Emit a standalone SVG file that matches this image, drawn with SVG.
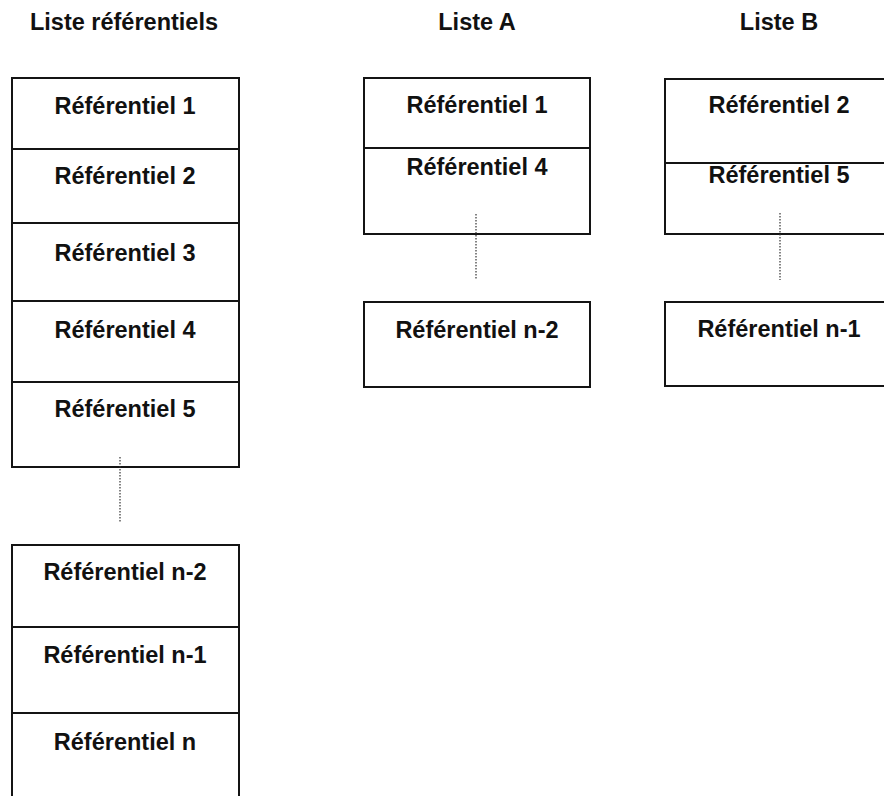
<svg xmlns="http://www.w3.org/2000/svg" width="884" height="796" viewBox="0 0 884 796">
<style>
.bg{fill:#ffffff}
.box{fill:#ffffff;stroke:#141414;stroke-width:2}
.sep{stroke:#141414;stroke-width:2;fill:none}
.dot{stroke:#333333;stroke-width:1.2;stroke-dasharray:1.5 1.5;fill:none}
.t{font-family:"Liberation Sans",Arial,sans-serif;font-weight:bold;font-size:23.5px;fill:#111111;text-anchor:middle}
</style>
<rect class="bg" x="0" y="0" width="884" height="796"/>
<g id="titles">
<text class="t" x="124" y="30">Liste référentiels</text>
<text class="t" x="477" y="30">Liste A</text>
<text class="t" x="779" y="30">Liste B</text>
</g>
<g id="liste-referentiels">
<g id="ref1"><rect class="box" x="12" y="78" width="227" height="71"/><text class="t" x="125" y="114">Référentiel 1</text></g>
<g id="ref2"><rect class="box" x="12" y="149" width="227" height="74"/><text class="t" x="125" y="184">Référentiel 2</text></g>
<g id="ref3"><rect class="box" x="12" y="223" width="227" height="78"/><text class="t" x="125" y="261">Référentiel 3</text></g>
<g id="ref4"><rect class="box" x="12" y="301" width="227" height="81"/><text class="t" x="125" y="338">Référentiel 4</text></g>
<g id="ref5"><rect class="box" x="12" y="382" width="227" height="85"/><text class="t" x="125" y="417">Référentiel 5</text></g>
<g id="refn2"><rect class="box" x="12" y="545" width="227" height="82"/><text class="t" x="125" y="580">Référentiel n-2</text></g>
<g id="refn1"><rect class="box" x="12" y="627" width="227" height="86"/><text class="t" x="125" y="663">Référentiel n-1</text></g>
<g id="refn"><rect class="box" x="12" y="713" width="227" height="90"/><text class="t" x="125" y="750">Référentiel n</text></g>
</g>
<g id="liste-a">
<g id="a-box1"><rect class="box" x="364" y="78" width="226" height="156"/><line class="sep" x1="364" y1="148" x2="590" y2="148"/>
<text class="t" x="477" y="113">Référentiel 1</text><text class="t" x="477" y="175">Référentiel 4</text></g>
<g id="a-box2"><rect class="box" x="364" y="302" width="226" height="85"/><text class="t" x="477" y="338">Référentiel n-2</text></g>
</g>
<g id="liste-b">
<g id="b-box1"><rect class="box" x="665" y="79" width="230" height="155"/><line class="sep" x1="665" y1="163" x2="895" y2="163"/>
<text class="t" x="779" y="113">Référentiel 2</text><text class="t" x="779" y="183">Référentiel 5</text></g>
<g id="b-box2"><rect class="box" x="665" y="302" width="230" height="84"/><text class="t" x="779" y="337">Référentiel n-1</text></g>
</g>
<g id="connectors">
<line class="dot" x1="120" y1="457" x2="120" y2="523"/>
<line class="dot" x1="476" y1="214" x2="476" y2="280"/>
<line class="dot" x1="780" y1="213" x2="780" y2="280"/>
</g>
</svg>
